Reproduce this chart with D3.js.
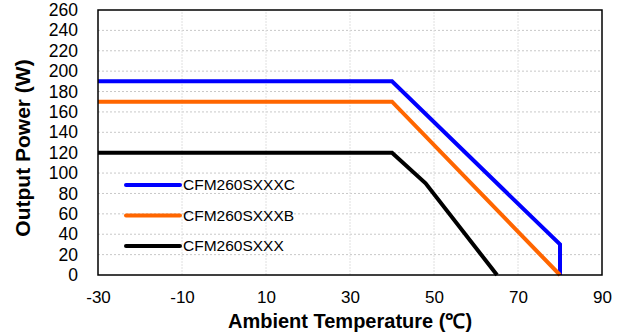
<!DOCTYPE html>
<html>
<head>
<meta charset="utf-8">
<script src="https://cdn.jsdelivr.net/npm/d3@7"></script>
<style>
  body { margin: 0; background: #fff; }
  text { font-family: Arial, "Liberation Sans", sans-serif; }
</style>
</head>
<body>
<div id="chart"></div>
<script>
const dims = { "width": 622, "height": 334, "left": 98, "right": 20, "top": 10, "bottom": 59 };

// series data: [temperature, power]
const seriesNames = ["CFM260SXXXC", "CFM260SXXXB", "CFM260SXXX"];
const seriesColors = ["#0000ff", "#ff6600", "#000000"];
const seriesC = [[-30, 190], [40, 190], [80, 30], [80, 0]];
const seriesB = [[-30, 170], [40, 170], [80, 0]];
const seriesX = [[-30, 120], [40, 120], [48, 90], [65, 0]];
const xTicks = [-30, -10, 10, 30, 50, 70, 90];
const yTicks = d3.range(0, 261, 20);

const series = [seriesC, seriesB, seriesX];

const x = d3.scaleLinear()
    .domain([-30, 90])
    .range([dims.left, dims.width - dims.right]);
const y = d3.scaleLinear()
    .domain([0, 260])
    .range([dims.height - dims.bottom, dims.top]);

const svg = d3.select("#chart")
    .append("svg")
    .attr("width", dims.width)
    .attr("height", dims.height);

// grid
svg.append("g")
    .selectAll("line")
    .data(yTicks.slice(1, -1))
    .join("line")
    .attr("x1", x(-30)).attr("x2", x(90))
    .attr("y1", d => y(d)).attr("y2", d => y(d))
    .attr("stroke", "#c8c8c8")
    .attr("stroke-width", 1)
    .attr("stroke-dasharray", "2,2");
svg.append("g")
    .selectAll("line")
    .data(d3.range(-10, 80, 20))
    .join("line")
    .attr("x1", d => x(d)).attr("x2", d => x(d))
    .attr("y1", y(0)).attr("y2", y(260))
    .attr("stroke", "#e0e0e0")
    .attr("stroke-width", 1)
    .attr("stroke-dasharray", "2,1");

// lines
const line = d3.line().x(d => x(d[0])).y(d => y(d[1]));
svg.append("g")
    .selectAll("path")
    .data(series)
    .join("path")
    .attr("d", line)
    .attr("fill", "none")
    .attr("stroke", (d, i) => seriesColors[i])
    .attr("stroke-width", 4)
    .attr("stroke-linejoin", "miter");

// frame
svg.append("rect")
    .attr("x", x(-30)).attr("y", y(260))
    .attr("width", x(90) - x(-30))
    .attr("height", y(0) - y(260))
    .attr("fill", "none")
    .attr("stroke", "#000")
    .attr("stroke-width", 1.5);

// y axis
const yAxis = g => g
    .attr("transform", `translate(${x(-30)},0)`)
    .call(d3.axisLeft(y).tickValues(yTicks).tickSize(0).tickPadding(20).tickFormat(d => String(d)))
    .call(g => g.select(".domain").remove())
    .call(g => g.selectAll(".tick text")
        .attr("font-size", 17.5)
        .attr("font-family", "Arial, 'Liberation Sans', sans-serif")
        .attr("fill", "#000"));
svg.append("g").call(yAxis);

// x axis
const xAxis = g => g
    .attr("transform", `translate(0,${y(0)})`)
    .call(d3.axisBottom(x).tickValues(xTicks).tickSize(0).tickPadding(16).tickFormat(d => String(d)))
    .call(g => g.select(".domain").remove())
    .call(g => g.selectAll(".tick text")
        .attr("font-size", 17)
        .attr("font-family", "Arial, 'Liberation Sans', sans-serif")
        .attr("fill", "#000"));
svg.append("g").call(xAxis);

// axis titles
svg.append("text")
    .attr("x", (x(-30) + x(90)) / 2)
    .attr("y", 328)
    .attr("text-anchor", "middle")
    .attr("font-size", 20)
    .attr("font-weight", "bold")
    .text("Ambient Temperature (℃)");
svg.append("text")
    .attr("transform", `translate(30,148) rotate(-90)`)
    .attr("text-anchor", "middle")
    .attr("font-size", 21)
    .attr("font-weight", "bold")
    .text("Output Power (W)");

// legend
const legend = svg.append("g")
    .selectAll("g")
    .data(seriesNames)
    .join("g")
    .attr("transform", (d, i) => `translate(126,${185 + i * 30.5})`);
legend.append("line")
    .attr("x1", 0).attr("x2", 54)
    .attr("stroke", (d, i) => seriesColors[i])
    .attr("stroke-width", 4)
    .attr("stroke-linecap", "round");
legend.append("text")
    .attr("x", 57)
    .attr("dy", "0.35em")
    .attr("font-size", 15.5)
    .text(d => d);
</script>
</body>
</html>
